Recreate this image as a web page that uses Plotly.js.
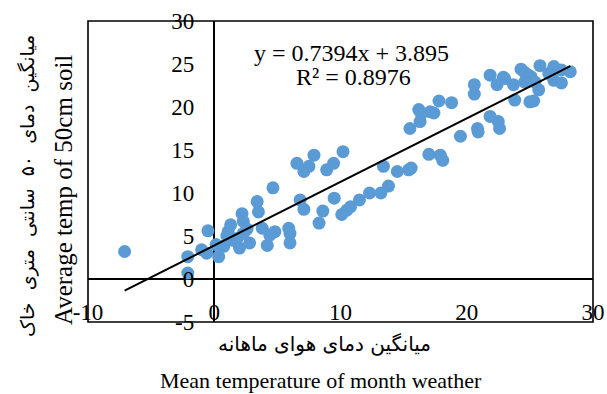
<!DOCTYPE html>
<html>
<head>
<meta charset="utf-8">
<script src="https://cdn.plot.ly/plotly-3.0.1.min.js"></script>
<style>html,body{margin:0;padding:0;background:#fff;}#chart{width:607px;height:394px;}</style>
</head>
<body>
<div id="chart"></div>
<script>
// Mean monthly air temperature (x) vs. mean soil temperature at 50 cm (y)
const airTemp = [
  -7.1, -2.1, -2.1, -1.0, -0.5, -0.6, 0.15, 0.35, 0.75, 1.1, 1.3, 1.8, 2.0, 2.2, 2.3, 2.3, 2.8,
  3.4, 3.5, 3.8, 4.2, 4.4, 4.8, 4.65, 5.9, 6.0, 6.0, 1.5, 1.0, 2.6,
  6.8, 7.1, 6.55, 7.5, 7.1, 7.9, 9.45, 8.9, 10.2, 9.5, 8.6, 8.3, 10.1, 10.5, 10.8, 11.5, 12.3,
  13.2, 13.8, 13.4, 14.5, 15.4, 15.6,
  15.5, 16.3, 16.2, 16.4, 17.1, 17.4, 17.8, 18.8, 17.0, 17.9, 18.1, 19.5, 20.85, 20.9, 20.6, 20.6,
  21.85, 22.5, 22.6,
  21.85, 22.4, 23.0, 23.7, 23.8, 24.3, 24.6, 24.9, 25.1, 25.4, 25.7, 24.6, 25.0, 25.3, 25.8,
  26.9, 27.5, 28.2, 26.9, 27.5, 26.5, 22.9
];
const soilTemp = [
  3.2, 2.6, 0.7, 3.4, 5.6, 3.0, 4.0, 2.6, 3.8, 5.5, 6.3, 4.7, 3.6, 7.6, 6.7, 5.3, 4.2,
  9.0, 7.8, 5.9, 3.9, 5.1, 5.5, 10.6, 5.9, 5.3, 4.2, 4.5, 5.0, 5.8,
  9.2, 8.1, 13.45, 13.1, 12.5, 14.4, 13.45, 12.7, 14.8, 9.4, 7.9, 6.5, 7.5, 8.0, 8.4, 9.2, 10.0,
  10.0, 10.8, 13.1, 12.5, 12.7, 12.9,
  17.5, 18.3, 19.7, 19.2, 19.45, 19.3, 20.7, 20.5, 14.5, 14.4, 13.8, 16.6, 17.5, 17.1, 22.6, 21.5,
  18.9, 18.3, 17.5,
  23.7, 22.6, 23.3, 22.6, 20.8, 24.4, 24.0, 23.7, 23.5, 22.9, 22.0, 22.9, 20.6, 20.7, 24.8,
  24.7, 24.3, 24.1, 23.1, 22.8, 23.9, 23.45
];
// Linear trendline reported on the chart
const slope = 0.7394;
const intercept = 3.895;
const eqText = "y = 0.7394x + 3.895";
const r2Text = "R² = 0.8976";
const xTicks = [-10, 0, 10, 20, 30];
const yTicks = [-5, 0, 5, 10, 15, 20, 25, 30];

const xMin = Math.min(...airTemp), xMax = Math.max(...airTemp);
const trendX = [xMin, xMax];
const trendY = trendX.map(v => slope * v + intercept);

const serif = "Liberation Serif, Times New Roman, serif";
const fa = "DejaVu Sans, Noto Sans, sans-serif";

const data = [
  {x: airTemp, y: soilTemp, type: 'scatter', mode: 'markers',
   marker: {color: '#5B9BD5', size: 13, line: {width: 0}}, hoverinfo: 'skip'},
  {x: trendX, y: trendY, type: 'scatter', mode: 'lines',
   line: {color: '#000', width: 2}, hoverinfo: 'skip'}
];

const layout = {
  width: 607, height: 394,
  margin: {l: 88, r: 14, t: 21, b: 72},
  paper_bgcolor: '#fff', plot_bgcolor: '#fff',
  showlegend: false,
  xaxis: {
    range: [-10, 30], tickvals: xTicks, ticktext: xTicks.map(String),
    anchor: 'free', position: 5/35,
    showgrid: false, zeroline: true, zerolinecolor: '#000', zerolinewidth: 1.6,
    showline: false, ticks: '', ticklabelstandoff: 17,
    tickfont: {family: serif, size: 23, color: '#000'}
  },
  yaxis: {
    range: [-5, 30], tickvals: yTicks, ticktext: yTicks.map(String),
    anchor: 'free', position: 10/40,
    showgrid: false, zeroline: true, zerolinecolor: '#000', zerolinewidth: 1.6,
    showline: false, ticks: '', ticklabelstandoff: 20,
    tickfont: {family: serif, size: 23, color: '#000'}
  },
  shapes: [
    {type: 'rect', xref: 'paper', yref: 'paper', x0: 0, x1: 1, y0: 0, y1: 1,
     line: {color: '#000', width: 1.6}, fillcolor: 'rgba(0,0,0,0)'}
  ],
  annotations: [
    {text: eqText, xref: 'paper', yref: 'paper', x: 0.522, y: 0.893, xanchor: 'center', yanchor: 'middle',
     showarrow: false, font: {family: serif, size: 24, color: '#000'}},
    {text: r2Text, xref: 'paper', yref: 'paper', x: 0.525, y: 0.814, xanchor: 'center', yanchor: 'middle',
     showarrow: false, font: {family: serif, size: 24, color: '#000'}},
    {text: "Average temp of 50cm soil", xref: 'paper', yref: 'paper', x: -0.0495, y: 0.4385,
     xanchor: 'center', yanchor: 'middle', textangle: -90, showarrow: false,
     font: {family: serif, size: 25, color: '#000'}},
    {text: "میانگین  دمای  ۵۰  سانتی  متری  خاک", xref: 'paper', yref: 'paper', x: -0.1188, y: 0.452,
     xanchor: 'center', yanchor: 'middle', textangle: -90, showarrow: false,
     font: {family: fa, size: 19, color: '#000'}},
    {text: "میانگین دمای هوای ماهانه", xref: 'paper', yref: 'paper', x: 0.469, y: -0.072,
     xanchor: 'center', yanchor: 'middle', showarrow: false,
     font: {family: fa, size: 20, color: '#000'}},
    {text: "Mean temperature of month weather", xref: 'paper', yref: 'paper', x: 0.461, y: -0.196,
     xanchor: 'center', yanchor: 'middle', showarrow: false,
     font: {family: serif, size: 22, color: '#000'}}
  ]
};

Plotly.newPlot('chart', data, layout, {staticPlot: true, displayModeBar: false});
</script>
</body>
</html>
